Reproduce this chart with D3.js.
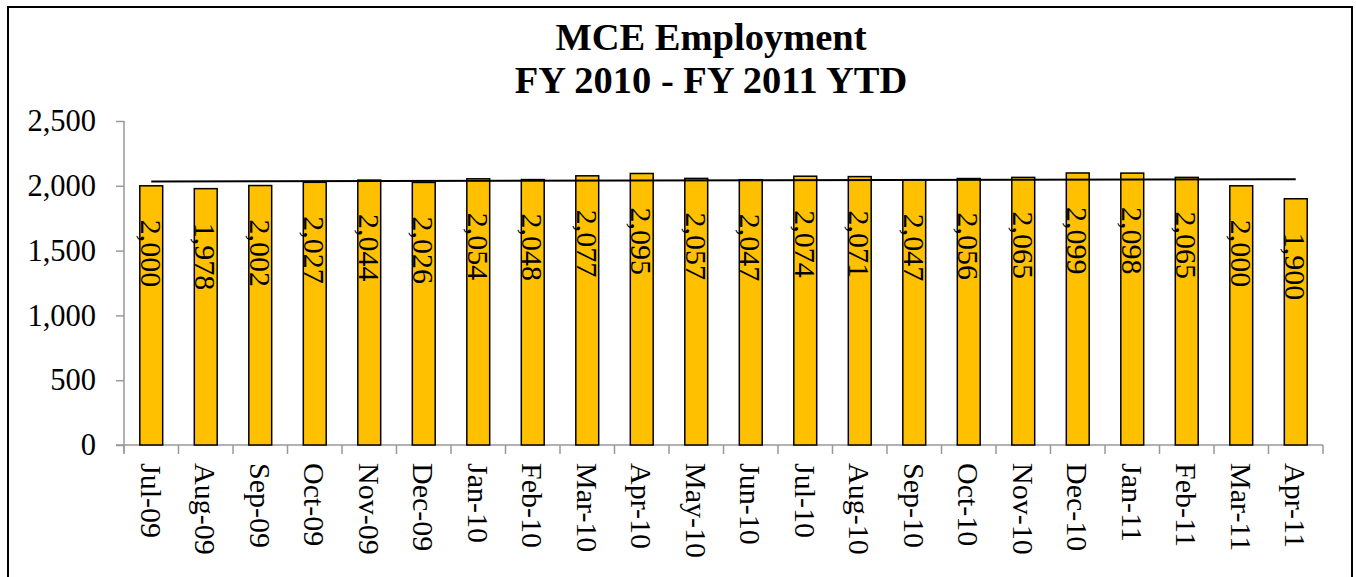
<!DOCTYPE html>
<html>
<head>
<meta charset="utf-8">
<script src="https://cdn.jsdelivr.net/npm/d3@7"></script>
<style>
  body { margin: 0; background: #fff; }
  svg text { font-family: "Liberation Serif", "Times New Roman", serif; }
</style>
</head>
<body>
<div id="chartDiv"></div>
<script>
// chart data
var months = ["Jul-09", "Aug-09", "Sep-09", "Oct-09", "Nov-09", "Dec-09", "Jan-10", "Feb-10",
    "Mar-10", "Apr-10", "May-10", "Jun-10", "Jul-10", "Aug-10", "Sep-10", "Oct-10",
    "Nov-10", "Dec-10", "Jan-11", "Feb-11", "Mar-11", "Apr-11"];
var employment = [2000, 1978, 2002, 2027, 2044, 2026, 2054, 2048, 2077, 2095, 2057, 2047,
    2074, 2071, 2047, 2056, 2065, 2099, 2098, 2065, 2000, 1900];
// trendline at the first and last month
var trendEnds = [2033, 2051];
var yTicks = [0, 500, 1000, 1500, 2000, 2500];
var titleLines = ["MCE Employment", "FY 2010 - FY 2011 YTD"];

var serif = "'Liberation Serif', 'Times New Roman', serif";
var width = 1356, height = 577;
var margin = { top: 121, right: 33, bottom: 132, left: 124 };

var svg = d3.select("#chartDiv").append("svg")
    .attr("width", width)
    .attr("height", height);

// outer frame
svg.append("rect")
    .attr("x", 8).attr("y", 7)
    .attr("width", 1344).attr("height", 600)
    .attr("fill", "none")
    .attr("stroke", "#000")
    .attr("stroke-width", 2);

var x = d3.scaleBand()
    .domain(months)
    .range([margin.left, width - margin.right])
    .paddingInner(0.58)
    .paddingOuter(0.29);

var y = d3.scaleLinear()
    .domain([0, 2500])
    .range([height - margin.bottom, margin.top]);

// title
svg.append("g").selectAll("text")
    .data(titleLines)
    .enter().append("text")
    .attr("x", 711)
    .attr("y", function (d, i) { return 50 + i * 43; })
    .attr("text-anchor", "middle")
    .style("font-family", serif)
    .style("font-size", "38.5px")
    .style("font-weight", "bold")
    .text(function (d) { return d; });

// y axis
var yAxis = svg.append("g")
    .attr("transform", "translate(" + margin.left + ",0)")
    .call(d3.axisLeft(y).tickValues(yTicks).tickSize(8).tickPadding(20).tickFormat(d3.format(",")));
yAxis.select(".domain").attr("stroke", "#999").attr("stroke-width", 1.5)
    .attr("d", "M0," + y(2500) + "V" + (y(0) + 8));
yAxis.selectAll(".tick line").attr("stroke", "#999").attr("stroke-width", 1.5);
yAxis.selectAll(".tick text").attr("fill", "#000").style("font-size", "30.5px")
    .style("font-family", serif);

// x axis: ticks sit between categories
var step = x.step();
var xAxis = svg.append("g");
xAxis.append("line")
    .attr("x1", margin.left - 8).attr("x2", width - margin.right)
    .attr("y1", y(0)).attr("y2", y(0))
    .attr("stroke", "#999").attr("stroke-width", 1.5);
xAxis.selectAll(".xtick")
    .data(d3.range(months.length + 1))
    .enter().append("line")
    .attr("x1", function (i) { return margin.left + i * step; })
    .attr("x2", function (i) { return margin.left + i * step; })
    .attr("y1", y(0)).attr("y2", y(0) + 9)
    .attr("stroke", "#999").attr("stroke-width", 1.5);
xAxis.selectAll(".xlabel")
    .data(months)
    .enter().append("text")
    .attr("transform", function (d) {
        return "translate(" + (x(d) + x.bandwidth() / 2) + "," + (y(0) + 18) + ") rotate(90)";
    })
    .attr("dy", "0.35em")
    .style("font-family", serif)
    .style("font-size", "30px")
    .text(function (d) { return d; });

// bars
svg.append("g").selectAll("rect")
    .data(employment)
    .enter().append("rect")
    .attr("x", function (d, i) { return x(months[i]); })
    .attr("y", function (d) { return y(d); })
    .attr("width", x.bandwidth())
    .attr("height", function (d) { return y(0) - y(d); })
    .attr("fill", "#FFC000")
    .attr("stroke", "#000")
    .attr("stroke-width", 1.5);

// trendline from first to last bar centre
var trendX = d3.scaleLinear().domain([0, 1])
    .range([x(months[0]) + x.bandwidth() / 2, x(months[months.length - 1]) + x.bandwidth() / 2]);
svg.append("path")
    .datum(trendEnds)
    .attr("d", d3.line().x(function (d, i) { return trendX(i); }).y(function (d) { return y(d); }))
    .attr("fill", "none")
    .attr("stroke", "#000")
    .attr("stroke-width", 2);

// value labels, rotated inside the bars
var fmt = d3.format(",");
svg.append("g").selectAll("text")
    .data(employment)
    .enter().append("text")
    .attr("transform", function (d, i) {
        return "translate(" + (x(months[i]) + x.bandwidth() / 2) + "," + (y(d) + 34) + ") rotate(90)";
    })
    .attr("dy", "0.35em")
    .style("font-family", serif)
    .style("font-size", "30px")
    .text(function (d) { return fmt(d); });
</script>
</body>
</html>
